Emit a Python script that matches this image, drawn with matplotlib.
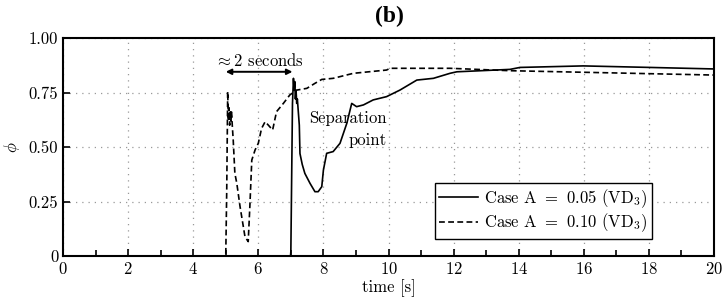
import matplotlib
matplotlib.use("Agg")
import matplotlib.pyplot as plt
from matplotlib.ticker import MultipleLocator, FixedLocator, FixedFormatter

plt.rcParams['font.family'] = 'cmr10'
plt.rcParams['mathtext.fontset'] = 'cm'
plt.rcParams['axes.formatter.use_mathtext'] = True

# Case A = 0.05 (solid)
t_a05 = [0, 6.99, 7.0, 7.05, 7.08, 7.1, 7.12, 7.14, 7.16, 7.18, 7.2, 7.23, 7.26, 7.28, 7.35, 7.43,
         7.59, 7.74, 7.84, 7.95, 8.0, 8.1, 8.3, 8.51, 8.72, 8.87, 9.02, 9.23, 9.53, 9.94,
         10.35, 10.87, 11.38, 11.89, 12.1, 13.73, 14.04, 15.98, 18.03, 20.0]
p_a05 = [0, 0, 0.02, 0.70, 0.815, 0.76, 0.80, 0.72, 0.76, 0.70, 0.72, 0.66, 0.60, 0.47, 0.42, 0.379,
         0.333, 0.295, 0.295, 0.318, 0.394, 0.471, 0.479, 0.517, 0.609, 0.70, 0.685, 0.693, 0.716, 0.731,
         0.761, 0.807, 0.815, 0.838, 0.845, 0.856, 0.865, 0.872, 0.865, 0.858]

# Case A = 0.10 (dashed)
t_a10 = [0, 5.0, 5.03, 5.06, 5.08, 5.1, 5.12, 5.14, 5.16, 5.18, 5.2, 5.23, 5.28, 5.34, 5.44,
         5.59, 5.69, 5.74, 5.8, 5.9, 6.0, 6.1, 6.21, 6.31, 6.44, 6.56, 6.77, 6.97, 7.18,
         7.49, 7.74, 7.95, 8.3, 8.92, 9.94, 10.05, 11.89, 13.73, 20.0]
p_a10 = [0, 0, 0.30, 0.754, 0.62, 0.68, 0.60, 0.67, 0.62, 0.66, 0.60, 0.53, 0.379, 0.333, 0.226,
         0.089, 0.066, 0.226, 0.44, 0.486, 0.517, 0.585, 0.616, 0.60, 0.578, 0.662, 0.70, 0.739, 0.761,
         0.769, 0.792, 0.81, 0.815, 0.838, 0.853, 0.861, 0.861, 0.85, 0.83]

xticks = [0, 2, 4, 6, 8, 10, 12, 14, 16, 18, 20]
yticks = [0, 0.25, 0.50, 0.75, 1.00]
ylabels = ['0', '0.25', '0.50', '0.75', '1.00']

fig = plt.figure(figsize=(7.22, 3.05), dpi=100)
ax = fig.add_axes([63/722, 1-256/305, (714-63)/722, (256-38)/305])

ax.plot(t_a05, p_a05, color='black', lw=1.2, label=r'Case A $=$ 0.05 (VD$_3$)')
ax.plot(t_a10, p_a10, color='black', lw=1.2, ls=(0, (3.5, 2)), label=r'Case A $=$ 0.10 (VD$_3$)')

ax.set_xlim(0, 20)
ax.set_ylim(0, 1)
ax.xaxis.set_major_locator(FixedLocator(xticks))
ax.xaxis.set_minor_locator(MultipleLocator(1))
ax.yaxis.set_major_locator(FixedLocator(yticks))
ax.yaxis.set_major_formatter(FixedFormatter(ylabels))
ax.tick_params(which='both', direction='in', labelsize=12, width=1.2)
ax.tick_params(which='major', length=5)
ax.tick_params(which='minor', length=4)
for s in ax.spines.values():
    s.set_linewidth(1.5)
ax.grid(True, which='major', ls=(0, (1, 4)), color='#999999', lw=0.9)

ax.set_xlabel('time [s]', fontsize=12, labelpad=2)
ax.set_ylabel(r'$\phi$', fontsize=12, labelpad=5)

fig.text(0.54, 0.945, '(b)', ha='center', va='center', fontsize=17,
         fontweight='bold', family='Liberation Serif')

ax.annotate('', xy=(5.0, 0.845), xytext=(7.05, 0.845),
            arrowprops=dict(arrowstyle='<|-|>', color='black', lw=1.4,
                            mutation_scale=8, shrinkA=0, shrinkB=0))
ax.text(6.03, 0.895, r'$\approx$2 seconds', ha='center', va='center', fontsize=12)
ax.text(9.95, 0.58, 'Separation\npoint', ha='right', va='center', fontsize=12,
        multialignment='right', linespacing=1.5)

leg = ax.legend(loc='lower right', bbox_to_anchor=(0.905, 0.08), fontsize=12, frameon=True,
                fancybox=False, edgecolor='black', framealpha=1, borderpad=0.25,
                handlelength=2.3, handletextpad=0.4, labelspacing=0.1, borderaxespad=0)
leg.get_frame().set_linewidth(1.0)

fig.savefig('out.png', dpi=100)
